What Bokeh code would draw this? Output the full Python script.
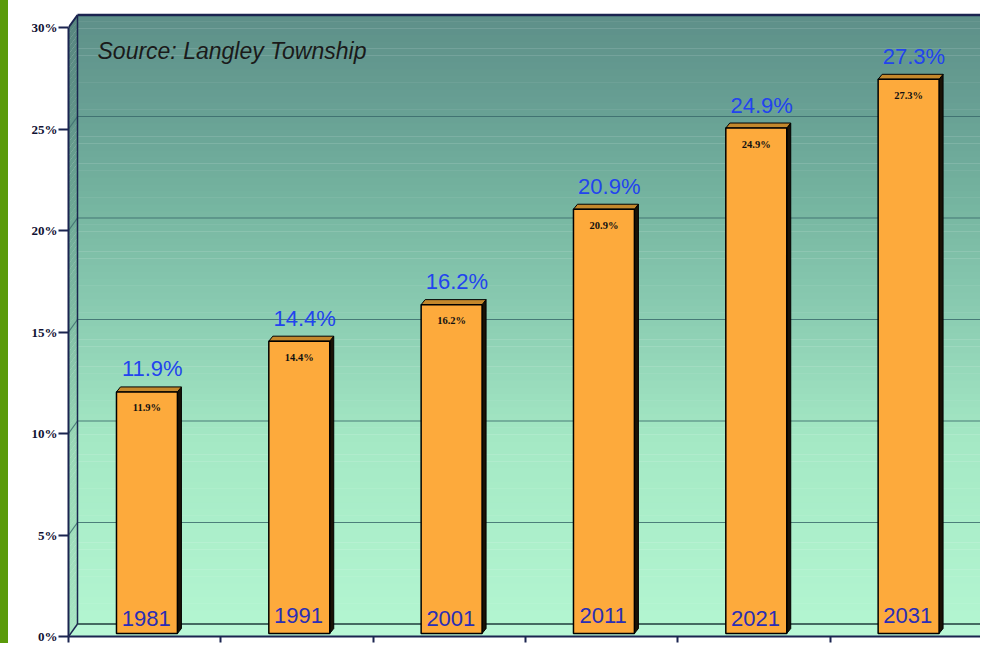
import numpy as np
from bokeh.plotting import figure
from bokeh.models import Range1d, FixedTicker, Label, Div
from bokeh.layouts import row
from bokeh.core.properties import value
from bokeh.embed import file_html
from bokeh.resources import INLINE

# ---------------- data ----------------
years = ["1981", "1991", "2001", "2011", "2021", "2031"]
pct = [11.9, 14.4, 16.2, 20.9, 24.9, 27.3]
pct_labels = ["11.9%", "14.4%", "16.2%", "20.9%", "24.9%", "27.3%"]
y_ticks = [0, 5, 10, 15, 20, 25, 30]
y_tick_labels = ["0%", "5%", "10%", "15%", "20%", "25%", "30%"]
title_text = "Percent of Total Population Aged 65+ in the Langley Local Health Area"
source_text = "Source: Langley Township"

# ---------------- geometry ----------------
STRIP = 8
W, H = 980 - STRIP, 643
BL, BR, BT, BB = 60, 0, 12, 7
FW, FH = W - BL - BR, H - BT - BB
PX = 152.33          # px per category unit
PY = 20.3            # px per percent
x_end = FW / PX
y_end = FH / PY
ncat = len(years)

WDX = 9 / PX         # wall depth
WDY = 12.5 / PY
BDX = 4 / PX         # bar depth
BDY = 5 / PY
BOFF = 3 / PY        # bar bottom above front edge

p = figure(width=W, height=H, x_range=Range1d(0, x_end), y_range=Range1d(0, y_end),
           output_backend="svg", toolbar_location=None, margin=0,
           min_border_left=BL, min_border_right=BR, min_border_top=BT, min_border_bottom=BB)
p.xgrid.visible = False
p.ygrid.visible = False
p.outline_line_color = None
p.background_fill_color = "white"
p.border_fill_color = "white"

# ---------------- back wall gradient ----------------
keys_f = [0.0, 0.3, 0.5, 0.7, 0.85, 1.0]
keys_c = [(179, 246, 209), (165, 233, 197), (140, 206, 179), (117, 180, 160), (104, 160, 148), (94, 144, 137)]


def grad(f, dark=1.0):
    r = np.interp(f, keys_f, [c[0] for c in keys_c]) * dark
    g = np.interp(f, keys_f, [c[1] for c in keys_c]) * dark
    b = np.interp(f, keys_f, [c[2] for c in keys_c]) * dark
    return "#%02x%02x%02x" % (int(r), int(g), int(b))


N = 90
edges = np.linspace(WDY, 30 + WDY, N + 1)
mids = (np.arange(N) + 0.5) / N
cols = [grad(f) for f in mids]
p.quad(left=WDX, right=x_end, bottom=edges[:-1], top=edges[1:] + 0.02,
       fill_color=cols, line_color=None)

# left side wall
lw_xs, lw_ys, lw_c = [], [], []
for k in range(N):
    a, b = edges[k], edges[k + 1] + 0.02
    lw_xs.append([0, WDX, WDX, 0])
    lw_ys.append([a - WDY, a, b, b - WDY])
    lw_c.append(grad(mids[k], 0.93))
p.patches(lw_xs, lw_ys, fill_color=lw_c, line_color=None)

# floor
p.patch([0, ncat, ncat + WDX, WDX], [0, 0, WDY, WDY], fill_color="#b9f7d6", line_color=None)

# grid lines on back wall and side wall
gv = [t for t in y_ticks if 0 < t < 30]
p.segment(x0=WDX, y0=[v + WDY for v in gv], x1=x_end, y1=[v + WDY for v in gv],
          line_color="#3b6b6c", line_width=1.2, line_alpha=0.85)
p.segment(x0=0, y0=gv, x1=WDX, y1=[v + WDY for v in gv],
          line_color="#3b6b6c", line_width=1.2, line_alpha=0.85)

NAVY = "#1b2450"
# frame edges
p.segment(x0=[WDX, WDX, 0, 0, ncat], y0=[WDY, 30 + WDY, 30, 0, 0],
          x1=[WDX, x_end, WDX, WDX, ncat + WDX], y1=[30 + WDY, 30 + WDY, 30 + WDY, WDY, WDY],
          line_color=NAVY, line_width=[1.5, 2.5, 2, 1.5, 1.5])
p.segment(x0=WDX, y0=WDY, x1=x_end, y1=WDY, line_color="#1f3b3c", line_width=1.5)

# ---------------- bars ----------------
lefts = [i + 0.315 for i in range(ncat)]
rights = [i + 0.715 for i in range(ncat)]
tops = [v + BOFF for v in pct]

side_xs = [[r, r + BDX, r + BDX, r] for r in rights]
side_ys = [[BOFF, BOFF + BDY, t + BDY, t] for t in tops]
p.patches(side_xs, side_ys, fill_color="#1a1206", line_color="black", line_width=1)

top_xs = [[l, r, r + BDX, l + BDX] for l, r in zip(lefts, rights)]
top_ys = [[t, t, t + BDY, t + BDY] for t in tops]
p.patches(top_xs, top_ys, fill_color="#c4882c", line_color="black", line_width=1)

p.quad(left=lefts, right=rights, bottom=BOFF, top=tops,
       fill_color="#fdaa3c", line_color="black", line_width=1.5)

# ---------------- labels ----------------
p.text(x=[i + 0.55 for i in range(ncat)], y=[t + 23 / PY for t in tops], text=pct_labels,
       text_align="center", text_baseline="middle",
       text_font=value("Liberation Sans"), text_font_size="22px", text_color="#2244ee")

p.text(x=[i + 0.515 for i in range(ncat)], y=[t - 16 / PY for t in tops], text=pct_labels,
       text_align="center", text_baseline="middle",
       text_font=value("Liberation Serif"), text_font_style="bold",
       text_font_size="10.5px", text_color="#111111")

p.text(x=[i + 0.51 for i in range(ncat)], y=[(18.5 + 3 * (i % 2)) / PY for i in range(ncat)],
       text=years, text_align="center", text_baseline="middle",
       text_font=value("Liberation Sans"), text_font_size="22px", text_color="#2a2eb5")

p.add_layout(Label(x=29 / PX, y=(636 - 50.5) / PY, text=source_text,
                   text_font="Liberation Sans", text_font_style="italic",
                   text_font_size="23px", text_color="#1a1a1a", text_baseline="middle"))

p.add_layout(Label(x=147 / PX, y=(636 + 7) / PY, text=title_text,
                   text_font="Liberation Sans", text_font_size="21px",
                   text_color="#3355ee", text_baseline="middle"))

# ---------------- axes ----------------
ya = p.yaxis[0]
ya.ticker = FixedTicker(ticks=y_ticks)
ya.major_label_overrides = {t: s for t, s in zip(y_ticks, y_tick_labels)}
ya.bounds = (0, 30)
ya.major_tick_out = 10
ya.major_tick_in = 0
ya.minor_tick_line_color = None
ya.axis_line_width = 2
ya.axis_line_color = NAVY
ya.major_tick_line_color = NAVY
ya.major_tick_line_width = 2
ya.major_label_text_font = "Liberation Serif"
ya.major_label_text_font_style = "bold"
ya.major_label_text_font_size = "13px"
ya.major_label_text_color = "#111133"
ya.major_label_standoff = 1

x_ticks = list(range(ncat + 1))
xa = p.xaxis[0]
xa.ticker = FixedTicker(ticks=x_ticks)
xa.major_label_overrides = {t: "" for t in x_ticks}
xa.bounds = (0, ncat)
xa.major_tick_out = 6
xa.major_tick_in = 0
xa.minor_tick_line_color = None
xa.axis_line_width = 2
xa.axis_line_color = NAVY
xa.major_tick_line_color = NAVY
xa.major_tick_line_width = 2
xa.major_label_text_font_size = "1px"
xa.major_label_text_color = None
xa.major_label_standoff = 0

strip = Div(text="", width=STRIP, height=H, margin=0, styles={"background-color": "#5a9a0a"})
layout = row(strip, p, spacing=0)

open("out.html", "w").write(file_html(layout, INLINE))
